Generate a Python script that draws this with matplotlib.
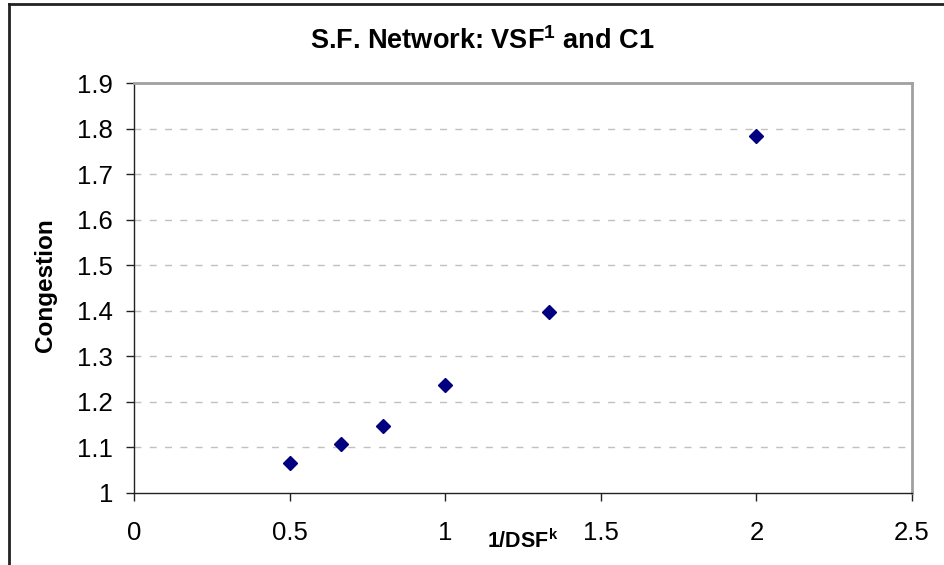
import matplotlib
matplotlib.use("Agg")
import matplotlib.pyplot as plt
from matplotlib.lines import Line2D

plt.rcParams['font.family'] = ['Liberation Sans', 'DejaVu Sans']
plt.rcParams['mathtext.fontset'] = 'custom'
plt.rcParams['mathtext.rm'] = 'Liberation Sans'
plt.rcParams['mathtext.bf'] = 'Liberation Sans:bold'

# Data
x_vals = [0.5, 0.6667, 0.8, 1.0, 1.3333, 2.0]
congestion = [1.065, 1.107, 1.148, 1.236, 1.397, 1.783]
x_ticks = [0, 0.5, 1, 1.5, 2, 2.5]
x_tick_labels = ["0", "0.5", "1", "1.5", "2", "2.5"]
y_ticks = [1, 1.1, 1.2, 1.3, 1.4, 1.5, 1.6, 1.7, 1.8, 1.9]
y_tick_labels = ["1", "1.1", "1.2", "1.3", "1.4", "1.5", "1.6", "1.7", "1.8", "1.9"]

W, H = 945, 565
fig = plt.figure(figsize=(W / 100, H / 100), dpi=100)
ax = fig.add_axes([134 / W, 1 - 493 / H, (912 - 134) / W, (493 - 83) / H])

ax.plot(x_vals, congestion, linestyle='none', marker='D', markersize=7.6,
        color='#000080', markeredgecolor='#000080', zorder=5, clip_on=False)

ax.set_xlim(0, 2.5)
ax.set_ylim(1, 1.9)
ax.set_xticks(x_ticks)
ax.set_xticklabels(x_tick_labels)
ax.set_yticks(y_ticks)
ax.set_yticklabels(y_tick_labels)

for yv in y_ticks[1:-1]:
    ax.axhline(yv, color='#c0c0c0', linewidth=1.0, linestyle=(0, (5, 6)), zorder=1)

for s in ['left', 'bottom']:
    ax.spines[s].set_color('#222222')
    ax.spines[s].set_linewidth(1.0)
for s in ['top', 'right']:
    ax.spines[s].set_color('#a0a0a0')
    ax.spines[s].set_linewidth(2.0)

ax.tick_params(axis='both', direction='out', length=6, width=1.0, color='#222222',
               labelsize=18.5, labelcolor='black')
ax.tick_params(axis='y', pad=9)
ax.tick_params(axis='x', pad=14)

fig.text(46 / W, 1 - 285.5 / H, 'Congestion', rotation=90,
         fontsize=17.5, fontweight='bold', ha='center', va='center')
fig.text(482 / W, 1 - 49 / H, r'S.F. Network: VSF$^{\mathbf{1}}$ and C1',
         fontsize=19.5, fontweight='bold', ha='center', va='baseline')
fig.text(523 / W, 1 - 548 / H, r'1/DSF$^{\mathbf{k}}$',
         fontsize=15.5, fontweight='bold', ha='center', va='baseline')

# Outer chart frame (top and left edges visible)
fig.add_artist(Line2D([9 / W, 1.0], [1 - 4 / H, 1 - 4 / H], transform=fig.transFigure,
                      color='#222222', linewidth=2.0))
fig.add_artist(Line2D([9 / W, 9 / W], [0.0, 1 - 4 / H], transform=fig.transFigure,
                      color='#222222', linewidth=2.0))

fig.savefig('out.png', dpi=100)
